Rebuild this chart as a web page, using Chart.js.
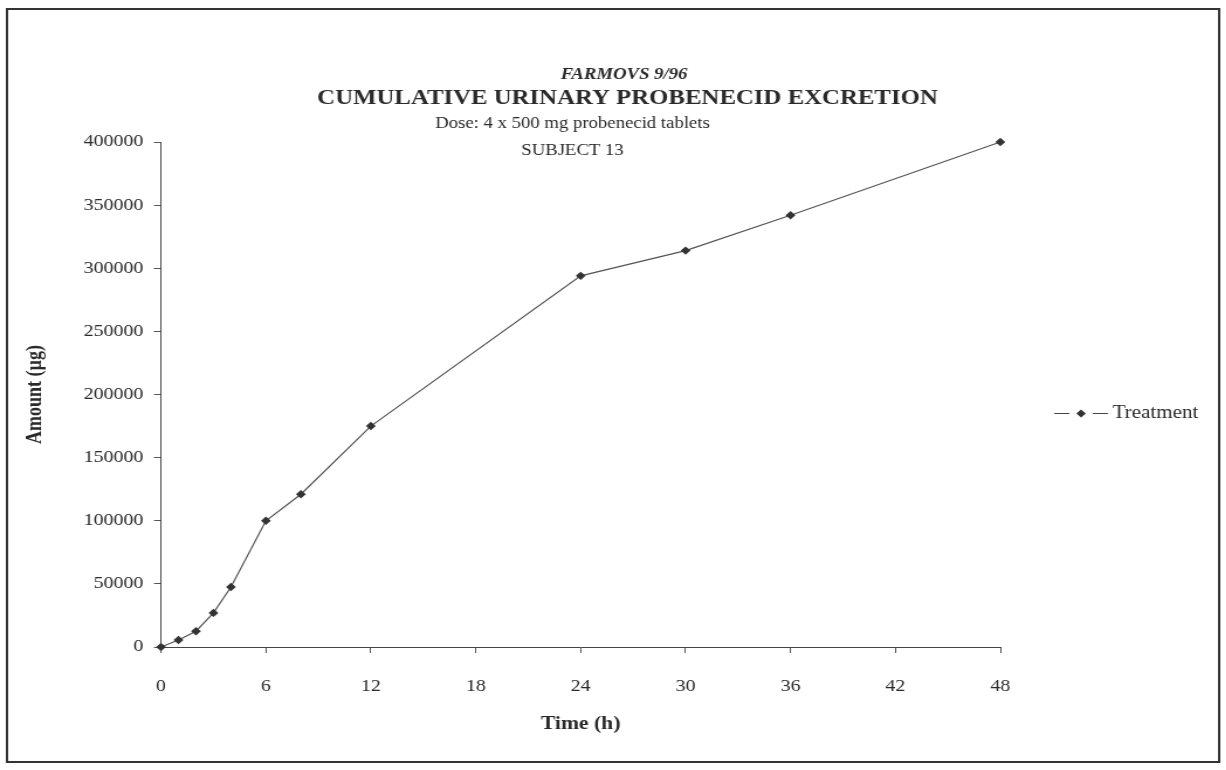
<!DOCTYPE html>
<html>
<head>
<meta charset="utf-8">
<script src="https://cdn.jsdelivr.net/npm/chart.js@4.4.1/dist/chart.umd.min.js"></script>
<style>
  html, body { margin: 0; padding: 0; background: #ffffff; overflow: hidden; }
  #wrap { width: 1048px; height: 770px; transform: scaleX(1.17); transform-origin: 0 0; }
  canvas { display: block; }
</style>
</head>
<body>
<div id="wrap"><canvas id="chart" width="1048" height="770"></canvas></div>
<script>
// Sampling times (h) and cumulative amount excreted (µg)
const times = [0, 1, 2, 3, 4, 6, 8, 12, 24, 30, 36, 48];
const amounts = [0, 5500, 12500, 27000, 47500, 100000, 121000, 175000, 294000, 314000, 342000, 400000];

// Axis tick values
const timeTicks = [0, 6, 12, 18, 24, 30, 36, 42, 48];
const amountTicks = [0, 50000, 100000, 150000, 200000, 250000, 300000, 350000, 400000];

const seriesName = 'Treatment';
const titleLines = ['FARMOVS 9/96', 'CUMULATIVE URINARY PROBENECID EXCRETION'];
const subtitleLines = ['Dose: 4 x 500 mg probenecid tablets', 'SUBJECT 13'];

const SERIF = '"Liberation Serif", "Times New Roman", serif';
const INK = '#2a2a2a';

// Frame, titles and legend drawn around the plot
const decorations = {
  id: 'decorations',
  beforeDraw(chart) {
    const ctx = chart.ctx;
    ctx.save();
    ctx.fillStyle = '#ffffff';
    ctx.fillRect(0, 0, chart.width, chart.height);
    ctx.restore();
  },
  afterDraw(chart) {
    const ctx = chart.ctx;
    const area = chart.chartArea;
    const cx = (area.left + area.right) / 2;
    ctx.save();
    // outer frame
    ctx.strokeStyle = '#333333';
    ctx.lineWidth = 2;
    ctx.strokeRect(6, 9, chart.width - 12, chart.height - 17);

    // titles
    ctx.fillStyle = INK;
    ctx.textAlign = 'center';
    ctx.textBaseline = 'middle';
    ctx.font = 'italic bold 16px ' + SERIF;
    ctx.fillText(titleLines[0], cx + 37, area.top - 67);
    ctx.font = 'bold 21.2px ' + SERIF;
    ctx.fillText(titleLines[1], cx + 40, area.top - 43);
    ctx.font = '16px ' + SERIF;
    ctx.fillText(subtitleLines[0], cx - 7, area.top - 18);
    ctx.fillText(subtitleLines[1], cx - 7, area.top + 9);

    // legend: line - diamond - line, then label
    const ly = (area.top + area.bottom) / 2 + 19;
    const lx = area.right + 46;
    ctx.strokeStyle = '#444444';
    ctx.lineWidth = 1.2;
    ctx.beginPath();
    ctx.moveTo(lx, ly); ctx.lineTo(lx + 13, ly);
    ctx.moveTo(lx + 33, ly); ctx.lineTo(lx + 46, ly);
    ctx.stroke();
    ctx.fillStyle = '#333333';
    ctx.beginPath();
    ctx.moveTo(lx + 23, ly - 4);
    ctx.lineTo(lx + 27, ly);
    ctx.lineTo(lx + 23, ly + 4);
    ctx.lineTo(lx + 19, ly);
    ctx.closePath();
    ctx.fill();
    ctx.fillStyle = INK;
    ctx.textAlign = 'left';
    ctx.font = '18px ' + SERIF;
    ctx.fillText(seriesName, lx + 50, ly);
    ctx.restore();
  }
};

new Chart(document.getElementById('chart'), {
  type: 'line',
  data: {
    datasets: [{
      label: seriesName,
      data: times.map((t, i) => ({ x: t, y: amounts[i] })),
      borderColor: '#555555',
      borderWidth: 1.2,
      tension: 0,
      clip: 10,
      pointStyle: 'rectRot',
      pointRadius: 4.2,
      pointHoverRadius: 4.2,
      pointBackgroundColor: '#333333',
      pointBorderColor: '#333333',
      pointBorderWidth: 0
    }]
  },
  options: {
    responsive: false,
    animation: false,
    devicePixelRatio: 1,
    layout: { padding: { left: 20, right: 193, top: 142, bottom: 35 } },
    plugins: {
      legend: { display: false },
      title: { display: false },
      tooltip: { enabled: false }
    },
    scales: {
      x: {
        type: 'linear',
        min: 0,
        max: 48,
        afterBuildTicks(scale) { scale.ticks = timeTicks.map(v => ({ value: v })); },
        afterFit(scale) { scale.height = 88; },
        grid: { display: true, drawOnChartArea: false, drawTicks: true, tickLength: 6, color: '#555555', lineWidth: 1 },
        border: { display: true, color: '#444444', width: 1 },
        ticks: { padding: 23, color: INK, font: { family: SERIF, size: 17 }, maxRotation: 0 },
        title: { display: true, text: 'Time (h)', color: INK, padding: 0, font: { family: SERIF, size: 18.5, weight: 'bold' } }
      },
      y: {
        type: 'linear',
        min: 0,
        max: 400000,
        afterBuildTicks(scale) { scale.ticks = amountTicks.map(v => ({ value: v })); },
        afterFit(scale) { scale.width = 117.6; },
        grid: { display: true, drawOnChartArea: false, drawTicks: true, tickLength: 6, color: '#555555', lineWidth: 1 },
        border: { display: true, color: '#444444', width: 1 },
        ticks: { padding: 9, color: INK, font: { family: SERIF, size: 17 }, callback: v => String(v) },
        title: { display: true, text: 'Amount (µg)', color: INK, padding: 0, font: { family: SERIF, size: 18, weight: 'bold' } }
      }
    }
  },
  plugins: [decorations]
});
</script>
</body>
</html>
